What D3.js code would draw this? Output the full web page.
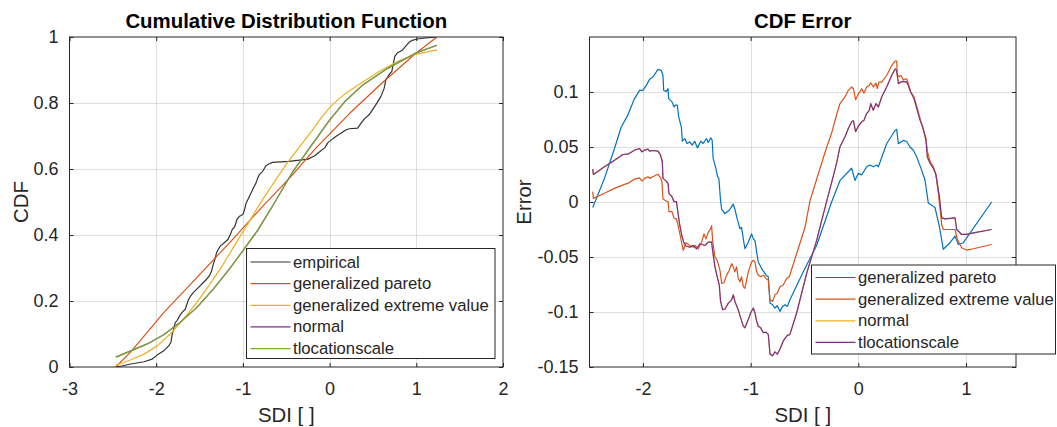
<!DOCTYPE html>
<html><head><meta charset="utf-8">
<script src="https://cdn.jsdelivr.net/npm/d3@7"></script>
<style>body{margin:0;background:#fff}text{font-family:"Liberation Sans",Arial,Helvetica,sans-serif}</style>
</head><body>
<svg id="c" width="1057" height="427"></svg>
<script>
// ---------- data ----------
const cdfXTicks = [-3, -2, -1, 0, 1, 2];
const cdfYTicks = [0, 0.2, 0.4, 0.6, 0.8, 1];
const errXTicks = [-2, -1, 0, 1];
const errYTicks = [-0.15, -0.1, -0.05, 0, 0.05, 0.1];
const cdfNames = ["empirical", "generalized pareto", "generalized extreme value", "normal", "tlocationscale"];
const errNames = ["generalized pareto", "generalized extreme value", "normal", "tlocationscale"];

const empirical = [[-2.466,0.0],[-2.40,0.003],[-2.293,0.009],[-2.141,0.016],[-2.046,0.024],[-1.989,0.036],[-1.913,0.049],[-1.856,0.064],[-1.829,0.075],[-1.818,0.095],[-1.799,0.115],[-1.779,0.135],[-1.760,0.140],[-1.730,0.155],[-1.703,0.165],[-1.665,0.175],[-1.646,0.190],[-1.627,0.205],[-1.601,0.216],[-1.570,0.226],[-1.532,0.236],[-1.494,0.246],[-1.456,0.256],[-1.418,0.266],[-1.388,0.276],[-1.361,0.291],[-1.342,0.311],[-1.323,0.326],[-1.304,0.346],[-1.285,0.356],[-1.259,0.367],[-1.221,0.375],[-1.171,0.387],[-1.144,0.402],[-1.122,0.417],[-1.095,0.425],[-1.068,0.447],[-1.038,0.457],[-1.0,0.462],[-0.981,0.477],[-0.962,0.497],[-0.932,0.513],[-0.905,0.528],[-0.878,0.543],[-0.848,0.558],[-0.829,0.573],[-0.810,0.583],[-0.772,0.593],[-0.734,0.610],[-0.696,0.616],[-0.658,0.620],[-0.468,0.623],[-0.248,0.630],[-0.172,0.640],[-0.115,0.652],[-0.057,0.664],[-0.019,0.680],[0.038,0.692],[0.076,0.699],[0.134,0.709],[0.191,0.719],[0.229,0.722],[0.324,0.724],[0.363,0.739],[0.401,0.752],[0.458,0.765],[0.496,0.780],[0.534,0.795],[0.592,0.820],[0.630,0.845],[0.649,0.871],[0.687,0.886],[0.718,0.896],[0.733,0.916],[0.752,0.941],[0.782,0.952],[0.840,0.960],[0.878,0.972],[0.916,0.984],[0.954,0.990],[1.011,0.994],[1.107,0.997],[1.238,1.0]];

const cdfGP = [[-2.466,0.0],[-2.293,0.046],[-1.913,0.165],[-1.532,0.271],[-1.152,0.377],[-0.772,0.487],[-0.468,0.571],[-0.153,0.665],[0.229,0.768],[0.611,0.862],[0.992,0.950],[1.238,1.0]];

const cdfGEV = [[-2.466,0.006],[-2.38,0.013],[-2.293,0.022],[-2.141,0.039],[-1.989,0.064],[-1.837,0.100],[-1.684,0.145],[-1.532,0.195],[-1.380,0.251],[-1.228,0.311],[-1.076,0.377],[-0.924,0.442],[-0.772,0.508],[-0.62,0.568],[-0.477,0.623],[-0.344,0.668],[-0.2,0.717],[-0.1,0.754],[0,0.786],[0.1,0.811],[0.2,0.832],[0.4,0.867],[0.6,0.900],[0.8,0.928],[1.0,0.948],[1.238,0.961]];

const cdfTloc = [[-2.466,0.030],[-2.293,0.049],[-2.103,0.070],[-1.913,0.098],[-1.722,0.136],[-1.532,0.180],[-1.342,0.236],[-1.152,0.298],[-0.962,0.366],[-0.83,0.414],[-0.63,0.500],[-0.43,0.590],[-0.23,0.664],[0,0.748],[0.17,0.803],[0.37,0.852],[0.67,0.905],[1.0,0.952],[1.238,0.975]];
// the normal fit is drawn exactly under the tlocationscale fit in the reference
const cdfNormal = cdfTloc;

const errGP = [[-2.466,-0.005],[-2.357,0.0215],[-2.264,0.0486],[-2.202,0.068],[-2.140,0.079],[-2.078,0.094],[-2.031,0.1015],[-2.0,0.1015],[-1.969,0.106],[-1.938,0.1115],[-1.907,0.1136],[-1.860,0.1205],[-1.829,0.1196],[-1.814,0.115],[-1.807,0.1015],[-1.783,0.1006],[-1.767,0.103],[-1.761,0.094],[-1.730,0.091],[-1.711,0.0864],[-1.699,0.088],[-1.680,0.088],[-1.668,0.0773],[-1.643,0.068],[-1.634,0.0553],[-1.612,0.0577],[-1.590,0.0532],[-1.565,0.0547],[-1.543,0.0517],[-1.519,0.0553],[-1.494,0.0492],[-1.463,0.0553],[-1.441,0.0532],[-1.410,0.0577],[-1.394,0.0541],[-1.370,0.0583],[-1.357,0.0562],[-1.348,0.0396],[-1.326,0.032],[-1.307,0.023],[-1.295,0.0215],[-1.279,0.001],[-1.269,-0.0066],[-1.238,-0.0105],[-1.198,-0.0075],[-1.161,-0.002],[-1.146,-0.0066],[-1.124,-0.0156],[-1.099,-0.0245],[-1.084,-0.023],[-1.068,-0.0335],[-1.053,-0.0425],[-1.022,-0.0365],[-0.991,-0.029],[-0.975,-0.0335],[-0.960,-0.035],[-0.944,-0.0455],[-0.929,-0.0545],[-0.913,-0.0575],[-0.898,-0.0605],[-0.876,-0.0635],[-0.858,-0.0665],[-0.836,-0.068],[-0.820,-0.0919],[-0.796,-0.0934],[-0.774,-0.0964],[-0.752,-0.0943],[-0.728,-0.0994],[-0.703,-0.0949],[-0.681,-0.0934],[-0.659,-0.0949],[-0.635,-0.0889],[-0.511,-0.0635],[-0.387,-0.0395],[-0.248,0.0],[-0.170,0.0196],[-0.062,0.0307],[-0.031,0.0196],[0.0,0.026],[0.031,0.0247],[0.077,0.032],[0.108,0.0337],[0.139,0.032],[0.170,0.0337],[0.186,0.032],[0.263,0.053],[0.341,0.065],[0.356,0.066],[0.372,0.053],[0.418,0.056],[0.449,0.055],[0.480,0.050],[0.511,0.047],[0.542,0.041],[0.588,0.029],[0.619,0.020],[0.650,-0.001],[0.712,-0.005],[0.752,-0.022],[0.789,-0.043],[0.851,-0.037],[0.898,-0.031],[0.929,-0.0386],[0.975,-0.037],[1.238,0.0]];

const errGEV = [[-2.466,0.0094],[-2.46,0.0033],[-2.357,0.0079],[-2.264,0.0124],[-2.171,0.016],[-2.140,0.0169],[-2.078,0.0208],[-2.031,0.022],[-2.009,0.019],[-1.984,0.0215],[-1.953,0.023],[-1.938,0.0215],[-1.907,0.023],[-1.876,0.0245],[-1.860,0.0251],[-1.836,0.022],[-1.823,0.0184],[-1.814,0.0027],[-1.783,0.0009],[-1.767,0.0003],[-1.758,-0.0088],[-1.730,-0.0088],[-1.711,-0.0148],[-1.689,-0.0154],[-1.674,-0.021],[-1.655,-0.030],[-1.635,-0.040],[-1.625,-0.044],[-1.60,-0.037],[-1.563,-0.0395],[-1.533,-0.041],[-1.517,-0.0395],[-1.486,-0.0425],[-1.455,-0.0365],[-1.433,-0.029],[-1.415,-0.0335],[-1.393,-0.0275],[-1.372,-0.0245],[-1.362,-0.0215],[-1.353,-0.035],[-1.331,-0.05],[-1.310,-0.053],[-1.285,-0.062],[-1.269,-0.074],[-1.248,-0.0734],[-1.223,-0.0665],[-1.198,-0.062],[-1.176,-0.056],[-1.161,-0.059],[-1.146,-0.0635],[-1.130,-0.059],[-1.115,-0.0695],[-1.099,-0.0725],[-1.084,-0.068],[-1.068,-0.077],[-1.053,-0.0785],[-1.022,-0.0635],[-0.991,-0.0545],[-0.975,-0.053],[-0.960,-0.0545],[-0.944,-0.0635],[-0.929,-0.0665],[-0.907,-0.068],[-0.882,-0.0665],[-0.858,-0.0695],[-0.836,-0.071],[-0.820,-0.0889],[-0.796,-0.0904],[-0.774,-0.0844],[-0.752,-0.083],[-0.728,-0.077],[-0.697,-0.0755],[-0.666,-0.0695],[-0.641,-0.068],[-0.573,-0.047],[-0.495,-0.023],[-0.449,0.001],[-0.38,0.023],[-0.30,0.048],[-0.25,0.062],[-0.20,0.080],[-0.170,0.0895],[-0.124,0.0955],[-0.093,0.1015],[-0.062,0.1045],[-0.046,0.103],[-0.025,0.093],[0.0,0.0985],[0.015,0.100],[0.031,0.103],[0.053,0.099],[0.077,0.1045],[0.102,0.106],[0.115,0.1084],[0.139,0.1045],[0.164,0.108],[0.176,0.103],[0.190,0.109],[0.217,0.109],[0.263,0.115],[0.310,0.124],[0.341,0.128],[0.356,0.128],[0.362,0.115],[0.381,0.114],[0.396,0.115],[0.418,0.111],[0.449,0.112],[0.464,0.1075],[0.486,0.100],[0.517,0.0955],[0.548,0.085],[0.573,0.076],[0.598,0.068],[0.628,0.058],[0.641,0.046],[0.666,0.037],[0.697,0.032],[0.721,0.0247],[0.743,0.0081],[0.774,-0.0205],[0.789,-0.025],[0.898,-0.025],[0.920,-0.034],[0.960,-0.0416],[1.006,-0.0437],[1.068,-0.0425],[1.238,-0.0386]];

const errTloc = [[-2.466,0.030],[-2.46,0.025],[-2.357,0.032],[-2.264,0.038],[-2.186,0.0432],[-2.140,0.0435],[-2.078,0.0471],[-2.031,0.0486],[-2.009,0.0456],[-1.984,0.0471],[-1.953,0.048],[-1.938,0.0462],[-1.907,0.0468],[-1.860,0.0462],[-1.836,0.0426],[-1.820,0.0366],[-1.814,0.0215],[-1.783,0.019],[-1.767,0.0169],[-1.758,0.0079],[-1.730,0.0048],[-1.711,0.0003],[-1.689,0.0003],[-1.674,-0.010],[-1.658,-0.021],[-1.64,-0.030],[-1.62,-0.037],[-1.60,-0.040],[-1.563,-0.041],[-1.533,-0.0395],[-1.502,-0.0425],[-1.471,-0.038],[-1.424,-0.0395],[-1.393,-0.0365],[-1.362,-0.0365],[-1.353,-0.044],[-1.331,-0.059],[-1.310,-0.068],[-1.291,-0.0755],[-1.279,-0.0904],[-1.260,-0.0979],[-1.238,-0.0973],[-1.207,-0.0919],[-1.176,-0.089],[-1.161,-0.0844],[-1.146,-0.0904],[-1.115,-0.0979],[-1.099,-0.1033],[-1.068,-0.1129],[-1.053,-0.1144],[-1.022,-0.1069],[-1.000,-0.1009],[-0.975,-0.0964],[-0.960,-0.1009],[-0.944,-0.1084],[-0.929,-0.1129],[-0.907,-0.1144],[-0.882,-0.1189],[-0.858,-0.1183],[-0.836,-0.1204],[-0.820,-0.1383],[-0.796,-0.1398],[-0.774,-0.1362],[-0.752,-0.1383],[-0.728,-0.1338],[-0.697,-0.1263],[-0.659,-0.1213],[-0.635,-0.1204],[-0.573,-0.1009],[-0.480,-0.065],[-0.387,-0.035],[-0.325,-0.011],[-0.25,0.017],[-0.20,0.036],[-0.170,0.0503],[-0.124,0.0593],[-0.093,0.0669],[-0.062,0.0729],[-0.046,0.0738],[-0.025,0.0639],[0.0,0.069],[0.031,0.0729],[0.053,0.0744],[0.077,0.0804],[0.102,0.0834],[0.115,0.0895],[0.139,0.0834],[0.164,0.0895],[0.186,0.0864],[0.217,0.0955],[0.263,0.1045],[0.310,0.115],[0.341,0.121],[0.356,0.1196],[0.372,0.1075],[0.393,0.109],[0.418,0.1096],[0.449,0.109],[0.464,0.106],[0.486,0.100],[0.517,0.094],[0.548,0.0834],[0.573,0.0744],[0.598,0.068],[0.628,0.0563],[0.641,0.041],[0.666,0.0352],[0.697,0.0307],[0.721,0.0247],[0.752,0.0051],[0.774,-0.0145],[0.805,-0.0154],[0.898,-0.0145],[0.913,-0.025],[0.960,-0.0295],[1.006,-0.0295],[1.068,-0.028],[1.238,-0.025]];
// the normal error curve is drawn exactly under the tlocationscale curve in the reference
const errNormal = errTloc;

// ---------- drawing ----------
const C = {blue:"#0072BD", orange:"#D95319", yellow:"#EDB120", purple:"#7E2F8E", green:"#77AC30", black:"#333333"};
const AX = "#262626";
const svg = d3.select("#c");
svg.append("rect").attr("width",1057).attr("height",427).attr("fill","#fff");

function panel(opt){
  const g = svg.append("g");
  const x = d3.scaleLinear().domain(opt.xd).range([opt.x0, opt.x1]);
  const y = d3.scaleLinear().domain(opt.yd).range([opt.y1, opt.y0]);
  const id = "clip"+opt.id;
  svg.append("clipPath").attr("id",id).append("rect")
    .attr("x",opt.x0).attr("y",opt.y0).attr("width",opt.x1-opt.x0).attr("height",opt.y1-opt.y0);
  // grid
  const grid = g.append("g").attr("stroke",AX).attr("stroke-opacity",0.15).attr("stroke-width",1);
  opt.xt.forEach(t=>{ const px=Math.round(x(t))+0.5; if(px>opt.x0+1 && px<opt.x1-1) grid.append("line").attr("x1",px).attr("x2",px).attr("y1",opt.y0).attr("y2",opt.y1); });
  opt.yt.forEach(t=>{ const py=Math.round(y(t))+0.5; if(py>opt.y0+1 && py<opt.y1-1) grid.append("line").attr("y1",py).attr("y2",py).attr("x1",opt.x0).attr("x2",opt.x1); });
  // lines
  const line = d3.line().x(d=>x(d[0])).y(d=>y(d[1]));
  const lg = g.append("g").attr("clip-path",`url(#${id})`);
  opt.series.forEach(s=>{
    lg.append("path").datum(s.data).attr("d",line).attr("fill","none")
      .attr("stroke",s.color).attr("stroke-width",1.2).attr("stroke-linejoin","round");
  });
  // axes with d3 axis generators (ticks inward, box)
  const fmt = d=>String(d);
  const tl = 4;
  const bottom = g.append("g").attr("transform",`translate(0,${opt.y1})`)
    .call(d3.axisBottom(x).tickValues(opt.xt).tickFormat(fmt).tickSizeInner(-tl).tickSizeOuter(0).tickPadding(15));
  const top = g.append("g").attr("transform",`translate(0,${opt.y0})`)
    .call(d3.axisTop(x).tickValues(opt.xt).tickFormat("").tickSizeInner(-tl).tickSizeOuter(0));
  const left = g.append("g").attr("transform",`translate(${opt.x0},0)`)
    .call(d3.axisLeft(y).tickValues(opt.yt).tickFormat(fmt).tickSizeInner(-tl).tickSizeOuter(0).tickPadding(11));
  const right = g.append("g").attr("transform",`translate(${opt.x1},0)`)
    .call(d3.axisRight(y).tickValues(opt.yt).tickFormat("").tickSizeInner(-tl).tickSizeOuter(0));
  [bottom,top,left,right].forEach(a=>{
    a.select(".domain").remove();
    a.selectAll("line").attr("stroke",AX);
    a.selectAll("text").attr("fill",AX).style("font-size","18px");
  });
  bottom.selectAll("text").attr("dy","0.71em");
  g.append("rect").attr("x",opt.x0).attr("y",opt.y0).attr("width",opt.x1-opt.x0).attr("height",opt.y1-opt.y0)
    .attr("fill","none").attr("stroke",AX).attr("stroke-width",1);
  // title & labels
  const cx = (opt.x0+opt.x1)/2, cy=(opt.y0+opt.y1)/2;
  g.append("text").attr("x",cx).attr("y",27.5).attr("text-anchor","middle")
    .style("font-size","20.4px").style("font-weight","bold").attr("fill","#000").text(opt.title);
  g.append("text").attr("x",cx).attr("y",422).attr("text-anchor","middle")
    .style("font-size","20.4px").attr("fill",AX).text(opt.xlabel);
  g.append("text").attr("transform",`translate(${opt.ylx},${cy}) rotate(-90)`).attr("text-anchor","middle")
    .style("font-size","20.4px").attr("fill",AX).text(opt.ylabel);
  // legend
  const L = opt.legend;
  const lgd = g.append("g");
  lgd.append("rect").attr("x",L.x).attr("y",L.y).attr("width",L.w).attr("height",L.h)
    .attr("fill","#fff").attr("stroke",AX).attr("stroke-width",1);
  opt.series.forEach((s,i)=>{
    const yy = L.y + L.first + i*21.65;
    lgd.append("line").attr("x1",L.x+4).attr("x2",L.x+44).attr("y1",yy).attr("y2",yy)
      .attr("stroke",s.color).attr("stroke-width",1.2);
    lgd.append("text").attr("x",L.x+46.5).attr("y",yy+5.5).style("font-size","16.7px")
      .attr("fill",AX).text(s.name);
  });
}

panel({
  id:"a", x0:69.5, x1:503, y0:37, y1:367, xd:[-3,2], yd:[0,1],
  xt:cdfXTicks, yt:cdfYTicks, title:"Cumulative Distribution Function",
  xlabel:"SDI [ ]", ylabel:"CDF", ylx:28,
  series:[
    {name:cdfNames[0], data:empirical, color:C.black},
    {name:cdfNames[1], data:cdfGP, color:C.orange},
    {name:cdfNames[2], data:cdfGEV, color:C.yellow},
    {name:cdfNames[3], data:cdfNormal, color:C.purple},
    {name:cdfNames[4], data:cdfTloc, color:C.green}
  ],
  legend:{x:246.5, y:248.5, w:248.5, h:110, first:13.5}
});

panel({
  id:"b", x0:589.5, x1:1016, y0:37, y1:367, xd:[-2.496,1.464], yd:[-0.15,0.15],
  xt:errXTicks, yt:errYTicks, title:"CDF Error",
  xlabel:"SDI [ ]", ylabel:"Error", ylx:531,
  series:[
    {name:errNames[0], data:errGP, color:C.blue},
    {name:errNames[1], data:errGEV, color:C.orange},
    {name:errNames[2], data:errNormal, color:C.yellow},
    {name:errNames[3], data:errTloc, color:C.purple}
  ],
  legend:{x:811.5, y:265, w:244, h:89, first:12.5}
});
</script>
</body></html>
